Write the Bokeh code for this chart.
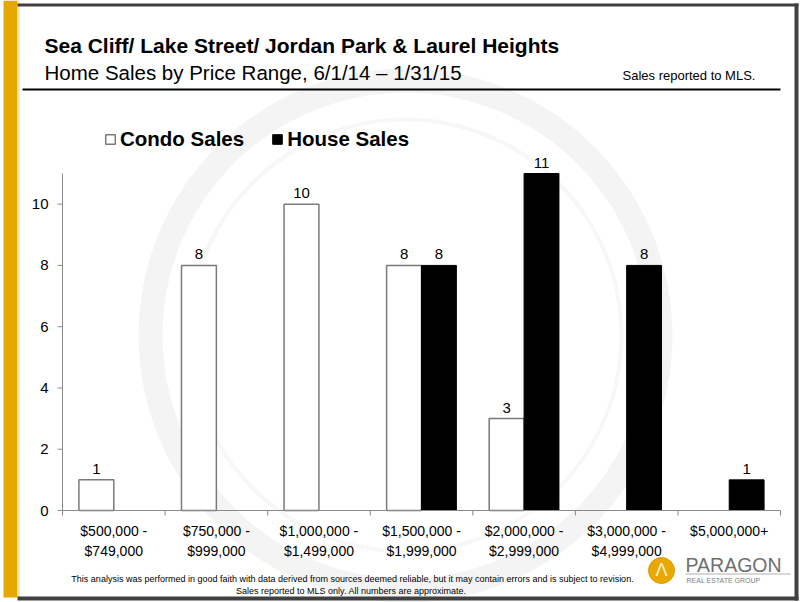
import math
from bokeh.plotting import figure
from bokeh.models import Range1d, Legend, LegendItem, ColumnDataSource
from bokeh.embed import file_html
from bokeh.resources import INLINE
from bokeh.core.properties import value

# ---------------- data ----------------
categories = ["$500,000 -\n$749,000", "$750,000 -\n$999,000", "$1,000,000 -\n$1,499,000",
              "$1,500,000 -\n$1,999,000", "$2,000,000 -\n$2,999,000",
              "$3,000,000 -\n$4,999,000", "$5,000,000+"]
condo_sales = [1, 8, 10, 8, 3, 0, 0]
house_sales = [0, 0, 0, 8, 11, 8, 1]
y_ticks = [0, 2, 4, 6, 8, 10]
y_max = 11

title_text = "Sea Cliff/ Lake Street/ Jordan Park & Laurel Heights"
subtitle_text = "Home Sales by Price Range, 6/1/14 \u2013 1/31/15"
note_text = "Sales reported to MLS."
footer1 = ("This analysis was performed in good faith with data derived from sources deemed "
           "reliable, but it may contain errors and is subject to revision.")
footer2 = "Sales reported to MLS  only. All numbers are approximate."
series_names = ["Condo Sales", "House Sales"]

# ---------------- layout ----------------
W, H = 800, 602
FL, FR, FT, FB = 62, 780, 173, 510   # chart plot-area edges in page pixels
FONT = "Liberation Sans"
AX = "#8a8a8a"
BAR_W = 0.34
n = len(categories)

# page-pixel ranges (y downwards) for decoration
p = figure(width=W, height=H, output_backend="svg", toolbar_location=None,
           x_range=Range1d(0, W), y_range=Range1d(H, 0),
           x_axis_location=None, y_axis_location=None,
           min_border=0, min_border_left=0, min_border_right=0,
           min_border_top=0, min_border_bottom=0)
p.outline_line_color = None
p.grid.visible = False
p.background_fill_color = "white"
p.border_fill_color = "white"

# chart ranges mapped onto the plot area
kx = (FR - FL) / n
ky = (FB - FT) / y_max
p.extra_x_ranges = {"cx": Range1d(-FL / kx, (W - FL) / kx)}
p.extra_y_ranges = {"cy": Range1d(-(H - FB) / ky, FB / ky)}
C = dict(x_range_name="cx", y_range_name="cy")

# ---------------- watermark ----------------
p.annulus(x=[405], y=[335], inner_radius=243, outer_radius=267,
          fill_color="#f4f4f4", line_color=None)
p.annulus(x=[405], y=[335], inner_radius=214, outer_radius=218,
          fill_color="#f7f7f7", line_color=None)

# ---------------- bars ----------------
centers = [i + 0.5 for i in range(n)]
cx = [c - BAR_W / 2 for c, v in zip(centers, condo_sales) if v > 0]
cv = [v for v in condo_sales if v > 0]
hx = [c + BAR_W / 2 for c, v in zip(centers, house_sales) if v > 0]
hv = [v for v in house_sales if v > 0]

csrc = ColumnDataSource(dict(x=cx, top=cv, lbl=[str(v) for v in cv]))
hsrc = ColumnDataSource(dict(x=hx, top=hv, lbl=[str(v) for v in hv]))

rc = p.vbar(x="x", top="top", bottom=0, width=BAR_W, source=csrc,
            fill_color="white", line_color="#7a7a7a", line_width=1.5, **C)
rh = p.vbar(x="x", top="top", bottom=0, width=BAR_W, source=hsrc,
            fill_color="black", line_color="black", line_width=1, **C)

for src in (csrc, hsrc):
    p.text(x="x", y="top", text="lbl", source=src, text_align="center",
           text_baseline="bottom", y_offset=-6, text_font=value(FONT),
           text_font_size="15px", text_color="black", **C)

# ---------------- axes ----------------
bounds = list(range(n + 1))
p.segment(x0=[0], y0=[0], x1=[n], y1=[0], line_color=AX, line_width=1, **C)
p.segment(x0=[0], y0=[0], x1=[0], y1=[y_max], line_color=AX, line_width=1, **C)
p.ray(x=bounds, y=[0] * len(bounds), length=5, length_units="screen",
      angle=-math.pi / 2, line_color=AX, line_width=1, **C)
p.ray(x=[0] * len(y_ticks), y=y_ticks, length=5, length_units="screen",
      angle=math.pi, line_color=AX, line_width=1, **C)
p.text(x=centers, y=[0] * n, text=categories, text_align="center",
       text_baseline="top", y_offset=12, text_line_height=1.3,
       text_font=value(FONT), text_font_size="14px", text_color="black", **C)
p.text(x=[0] * len(y_ticks), y=y_ticks, text=[str(t) for t in y_ticks],
       text_align="right", text_baseline="middle", x_offset=-14,
       text_font=value(FONT), text_font_size="15px", text_color="black", **C)

# ---------------- legend ----------------
legend = Legend(items=[LegendItem(label=series_names[0], renderers=[rc]),
                       LegendItem(label=series_names[1], renderers=[rh])],
                orientation="horizontal", location=(104, H - 151),
                label_text_font=FONT, label_text_font_style="bold",
                label_text_font_size="20.5px", label_text_color="black",
                label_height=20, glyph_width=12, glyph_height=12, spacing=27,
                label_standoff=4, padding=0, margin=0, border_line_color=None,
                background_fill_alpha=0)
p.add_layout(legend)

# ---------------- frame decoration (page pixels) ----------------
def rect(x0, y0, x1, y1, color):
    p.quad(left=[x0], right=[x1], top=[y0], bottom=[y1], fill_color=color,
           line_color=None)


rect(3, 0, 17, 597, "#E6A800")          # yellow side bar
rect(17, 0, 19, 597, "#F6E4A6")
rect(17, 3, 798, 6, "#404040")          # top border
rect(794, 3, 798, 600, "#404040")       # right border
rect(17, 596, 798, 600, "#404040")      # bottom border
rect(22, 88, 780, 90, "black")          # rule under header


def label(text, x, y, size, style="normal", color="black", align="left"):
    p.text(x=[x], y=[y], text=[text], text_font=value(FONT), text_font_size=size,
           text_font_style=style, text_color=color, text_align=align,
           text_baseline="middle")


label(title_text, 44, 45, "21px", style="bold")
label(subtitle_text, 44, 72, "20.5px")
label(note_text, 622, 75, "13px")
label(footer1, 352, 578, "9px", align="center")
label(footer2, 352, 590, "9px", align="center")

# logo
p.circle(x=[661], y=[570], radius=13, fill_color="#E8A800", line_color="#d89c00")
p.text(x=[661], y=[579], text=["\u039b"], text_font=value(FONT), text_font_size="18px",
       text_color="#fff4cc", text_align="center", text_baseline="bottom")
label("PARAGON", 685, 564, "19.5px", color="#6f6f6f")
rect(685, 573, 790, 574, "#b0b0b0")
label("REAL ESTATE GROUP", 686, 580, "7px", color="#808080")

open("out.html", "w").write(file_html(p, INLINE))
